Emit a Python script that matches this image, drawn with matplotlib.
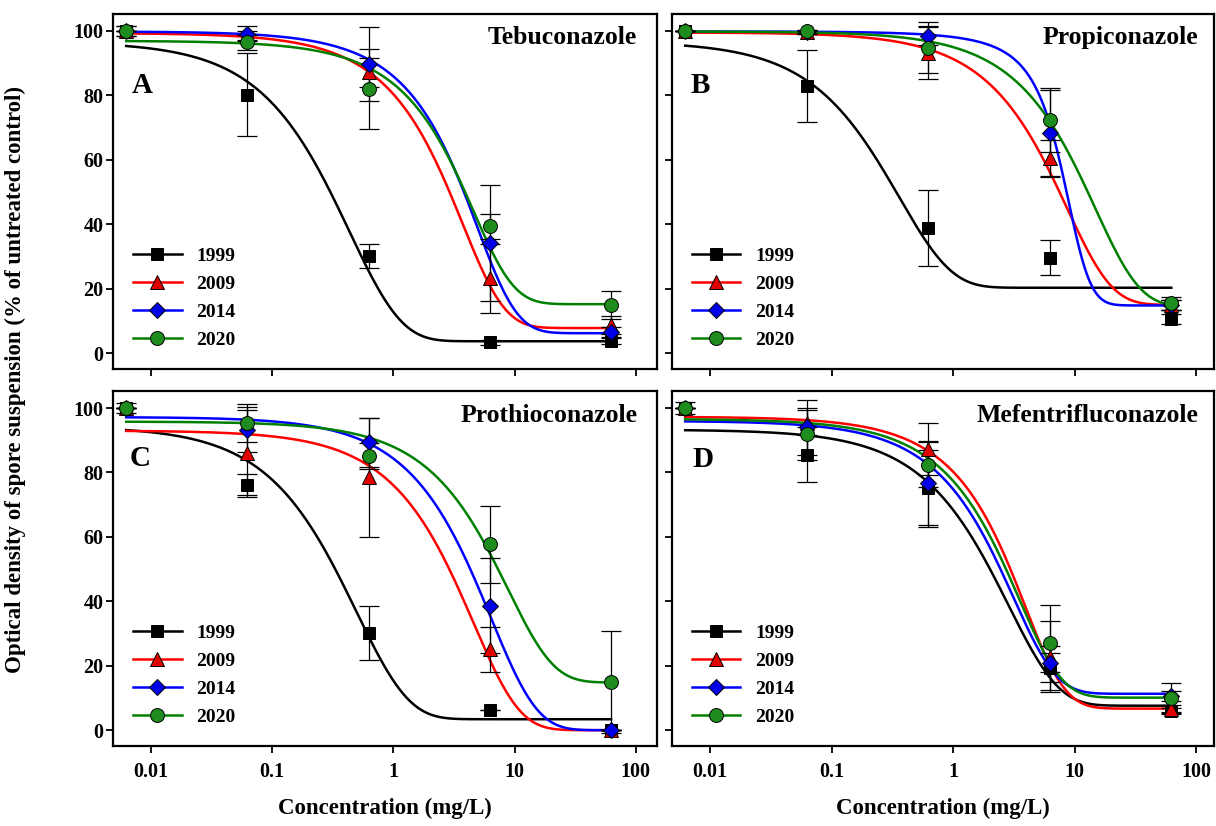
import numpy as np
import matplotlib.pyplot as plt
from matplotlib.lines import Line2D
from matplotlib.ticker import NullLocator

plt.rcParams['font.family'] = ['Liberation Serif', 'DejaVu Serif']
plt.rcParams['font.weight'] = 'bold'

conc = [0.00625, 0.0625, 0.625, 6.25, 62.5]
years = ['1999', '2009', '2014', '2020']
line_colors = ['black', '#ff0000', '#0000ff', '#008000']
face_colors = ['black', '#e00000', '#0000e6', '#1e8c1e']
markers = ['s', '^', 'D', 'o']
msizes = [8.5, 10, 8.5, 10]

# mean and sd, rows = years
teb_mean = [[100, 80.2, 30.2, 3.4, 3.8],
            [100, 98.5, 87.1, 23.3, 8.8],
            [100, 99.1, 89.7, 34.3, 6.5],
            [100, 96.5, 82.0, 39.3, 14.9]]
teb_sd = [[0, 12.9, 3.7, 0.8, 0.8],
          [0, 1.5, 4.6, 10.7, 2.8],
          [1.5, 2.3, 11.5, 18.0, 1.5],
          [1.5, 2.3, 12.5, 4.0, 4.4]]

pro_mean = [[100, 82.9, 38.9, 29.6, 10.6],
            [100, 99.5, 93.1, 60.4, 15.0],
            [100, 99.6, 98.5, 68.2, 15.0],
            [100, 99.8, 94.8, 72.3, 15.5]]
pro_sd = [[0, 11.2, 11.8, 5.5, 1.5],
          [0, 0.5, 8.0, 5.7, 1.5],
          [0, 0.5, 3.0, 13.3, 1.5],
          [0, 0.5, 8.0, 9.9, 2.0]]

prt_mean = [[100, 76.2, 30.3, 6.2, 0],
            [100, 86.0, 78.5, 25.1, 0],
            [100, 93.3, 89.3, 38.7, 0],
            [100, 95.3, 85.0, 57.7, 15.0]]
prt_sd = [[0, 3.3, 8.4, 0, 0],
          [0, 13.5, 18.5, 7.0, 0],
          [0, 7.0, 7.5, 14.7, 0],
          [1.5, 6.0, 4.0, 12.0, 15.8]]

mef_mean = [[100, 85.5, 75.1, 19.2, 6.0],
            [100, 95.5, 87.3, 22.8, 6.7],
            [100, 94.0, 76.7, 21.0, 10.7],
            [100, 91.9, 82.4, 27.0, 10.1]]
mef_sd = [[0, 8.5, 12.0, 6.8, 1.0],
          [0, 4.0, 8.0, 11.0, 1.0],
          [0, 8.6, 13.0, 3.0, 1.5],
          [2.0, 8.0, 7.0, 12.0, 4.7]]

# fitted sigmoid parameters: top (at 0 mg/L), bottom, midpoint, width (mg/L)
teb_fit = [[96.6, 3.7, -1.5, 0.425],
           [99.3, 7.8, -0.31, 2.5],
           [99.8, 6.2, 0.7, 3.0],
           [96.9, 15.2, 0.3, 2.9]]
pro_fit = [[96.7, 20.3, -1.5, 0.357],
           [99.5, 15.0, -4.0, 6.5],
           [99.8, 14.8, 7.6, 2.4],
           [99.8, 14.5, -6.0, 11.0]]
prt_fit = [[94.3, 3.4, -2.0, 0.49],
           [93.0, 0.0, -3.0, 3.6],
           [97.2, 0.0, -4.0, 5.0],
           [95.8, 14.8, -5.0, 6.8]]
mef_fit = [[93.3, 7.6, -5.0, 2.6],
           [97.3, 6.7, 0.5, 2.4],
           [96.0, 11.3, -0.7, 2.2],
           [96.6, 10.1, -0.5, 2.4]]

panels = [
    ('Tebuconazole', 'A', teb_mean, teb_sd, teb_fit),
    ('Propiconazole', 'B', pro_mean, pro_sd, pro_fit),
    ('Prothioconazole', 'C', prt_mean, prt_sd, prt_fit),
    ('Mefentrifluconazole', 'D', mef_mean, mef_sd, mef_fit),
]


def sigmoid(c, top, bottom, c0, w):
    return bottom + (top - bottom) * (1 + np.exp(-c0 / w)) / (1 + np.exp((c - c0) / w))


fig = plt.figure(figsize=(12.16, 8.26), dpi=100)
boxes = [[0.0932, 0.5529, 0.4474, 0.4301],
         [0.5529, 0.5529, 0.4455, 0.4301],
         [0.0932, 0.0965, 0.4474, 0.4298],
         [0.5529, 0.0965, 0.4455, 0.4298]]
xright = [10 ** 2.178, 10 ** 2.148, 10 ** 2.178, 10 ** 2.148]
title_x = [0.963, 0.971, 0.963, 0.971]
letter_pos = [(0.054, 0.80), (0.051, 0.80), (0.049, 0.812), (0.057, 0.807)]

xs = np.logspace(np.log10(conc[0]), np.log10(conc[-1]), 500)

for i, (name, letter, means, sds, fits) in enumerate(panels):
    ax = fig.add_axes(boxes[i])
    for j in range(4):
        ax.plot(xs, sigmoid(xs, *fits[j]), color=line_colors[j], lw=1.8, zorder=2 + j * 0.1)
    for j in range(4):
        ax.errorbar(conc, means[j], yerr=sds[j], fmt='none', ecolor='black',
                    elinewidth=0.9, capsize=7, capthick=0.9, zorder=3)
    for j in range(4):
        ax.plot(conc, means[j], linestyle='none', marker=markers[j], ms=msizes[j],
                mfc=face_colors[j], mec='black', mew=0.7, zorder=4 + j * 0.1)

    ax.set_xscale('log')
    ax.set_xlim(10 ** -2.31, xright[i])
    ax.set_ylim(-5, 105.2)
    ax.set_xticks([0.01, 0.1, 1, 10, 100])
    ax.set_xticklabels(['0.01', '0.1', '1', '10', '100'])
    ax.xaxis.set_minor_locator(NullLocator())
    ax.set_yticks([0, 20, 40, 60, 80, 100])
    ax.tick_params(direction='out', length=5, width=1.3, labelsize=14.5)
    ax.tick_params(axis='x', pad=6)
    ax.tick_params(axis='y', pad=2)
    if i < 2:
        ax.tick_params(labelbottom=False)
    if i % 2 == 1:
        ax.tick_params(labelleft=False)
    for sp in ax.spines.values():
        sp.set_linewidth(1.6)

    ax.text(title_x[i], 0.933, name, transform=ax.transAxes, ha='right', va='center',
            fontsize=18.5, fontweight='bold')
    ax.text(letter_pos[i][0], letter_pos[i][1], letter, transform=ax.transAxes,
            ha='center', va='center', fontsize=21, fontweight='bold')

    handles = [Line2D([], [], color=line_colors[j], lw=1.8, marker=markers[j], ms=msizes[j],
                      mfc=face_colors[j], mec='black', mew=0.7) for j in range(4)]
    ax.legend(handles, years, loc='lower left', bbox_to_anchor=(0.036, 0.058),
              frameon=False, fontsize=14, handlelength=2.5, handletextpad=0.75,
              labelspacing=0.53, borderpad=0, borderaxespad=0)

fig.text(0.013, 0.54, 'Optical density of spore suspension (% of untreated control)',
         rotation=90, ha='center', va='center', fontsize=16.5, fontweight='bold')
fig.text(0.3169, 0.021, 'Concentration (mg/L)', ha='center', va='center',
         fontsize=16.5, fontweight='bold')
fig.text(0.7755, 0.021, 'Concentration (mg/L)', ha='center', va='center',
         fontsize=16.5, fontweight='bold')

fig.savefig('out.png', dpi=100)
